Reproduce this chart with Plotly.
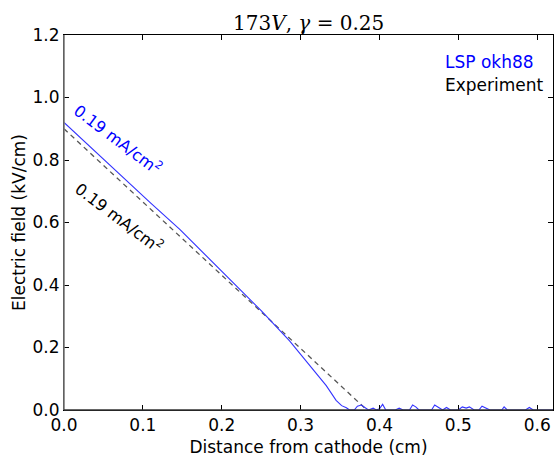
import plotly.graph_objects as go

# LSP okh88 simulation (blue)
lsp_x = [0.0, 0.035, 0.0709, 0.11, 0.1468, 0.172, 0.2207, 0.25, 0.286, 0.307, 0.3325,
         0.345, 0.352, 0.358, 0.362, 0.368, 0.372, 0.377, 0.382, 0.386, 0.392, 0.396,
         0.400, 0.404, 0.408, 0.420, 0.425, 0.430, 0.438, 0.442, 0.446, 0.450, 0.466,
         0.470, 0.475, 0.480, 0.485, 0.490, 0.500, 0.505, 0.510, 0.514, 0.520, 0.526,
         0.530, 0.535, 0.540, 0.555, 0.558, 0.562, 0.585, 0.590, 0.595, 0.620]
lsp_y = [0.920, 0.838, 0.752, 0.662, 0.578, 0.515, 0.390, 0.318, 0.221, 0.158, 0.078,
         0.031, 0.014, 0.007, 0.0, 0.0, 0.012, 0.016, 0.008, 0.0, 0.006, 0.0,
         0.004, 0.018, 0.0, 0.0, 0.006, 0.0, 0.0, 0.016, 0.010, 0.0, 0.0,
         0.016, 0.008, 0.0, 0.008, 0.0, 0.0, 0.010, 0.006, 0.010, 0.0, 0.0,
         0.012, 0.006, 0.0, 0.0, 0.010, 0.0, 0.0, 0.008, 0.0, 0.0]

# Experiment (dashed gray)
exp_x = [0.0, 0.384]
exp_y = [0.90, 0.0]

x_ticks = [0.0, 0.1, 0.2, 0.3, 0.4, 0.5, 0.6]
y_ticks = [0.0, 0.2, 0.4, 0.6, 0.8, 1.0, 1.2]

FONT = "DejaVu Sans"

fig = go.Figure()
fig.add_trace(go.Scatter(x=exp_x, y=exp_y, mode="lines",
                         line=dict(color="#555555", width=1.3, dash="5px,4px"),
                         showlegend=False, hoverinfo="skip"))
fig.add_trace(go.Scatter(x=lsp_x, y=lsp_y, mode="lines",
                         line=dict(color="#3333ff", width=1.1),
                         showlegend=False, hoverinfo="skip"))

axis_common = dict(showgrid=False, zeroline=False, showline=True, linecolor="black",
                   linewidth=1, mirror="ticks", ticks="inside", ticklen=5,
                   tickcolor="black", tickwidth=1,
                   tickfont=dict(family=FONT, size=17, color="black"))

fig.update_xaxes(range=[0, 0.62], tickvals=x_ticks,
                 ticktext=[f"{v:.1f}" for v in x_ticks],
                 title=dict(text="Distance from cathode (cm)",
                            font=dict(family=FONT, size=17, color="black"), standoff=8),
                 **axis_common)
fig.update_yaxes(range=[0, 1.2], tickvals=y_ticks,
                 ticktext=[f"{v:.1f}" for v in y_ticks],
                 title=dict(text="Electric field (kV/cm)",
                            font=dict(family=FONT, size=17, color="black"), standoff=2),
                 **axis_common)

# spine colours (left gray, bottom dark)
fig.add_shape(type="line", xref="x domain", yref="y domain", x0=0, x1=0, y0=0, y1=1,
              line=dict(color="#7a7a7a", width=1.6))
fig.add_shape(type="line", xref="x domain", yref="y domain", x0=0, x1=1, y0=0, y1=0,
              line=dict(color="#333333", width=1.6))

annotations = [
    dict(text="173<i>V</i>, <i>γ</i> = 0.25", xref="paper", yref="paper", x=0.5, y=1.031,
         xanchor="center", yanchor="middle", showarrow=False,
         font=dict(family="DejaVu Serif", size=20, color="black")),
    dict(text="LSP okh88", xref="paper", yref="paper", x=0.7755, y=0.9286,
         xanchor="left", yanchor="middle", showarrow=False,
         font=dict(family=FONT, size=17, color="#0000ff")),
    dict(text="Experiment", xref="paper", yref="paper", x=0.7755, y=0.8677,
         xanchor="left", yanchor="middle", showarrow=False,
         font=dict(family=FONT, size=17, color="black")),
    dict(text="0.19 mA/cm<sup>2</sup>", x=0.0687, y=0.867, xref="x", yref="y",
         textangle=37, showarrow=False, xanchor="center", yanchor="middle",
         font=dict(family=FONT, size=16, color="#0000ff")),
    dict(text="0.19 mA/cm<sup>2</sup>", x=0.0696, y=0.616, xref="x", yref="y",
         textangle=37, showarrow=False, xanchor="center", yanchor="middle",
         font=dict(family=FONT, size=16, color="black")),
]

fig.update_layout(width=556, height=457, autosize=False,
                  margin=dict(l=64, r=2, t=35, b=44),
                  paper_bgcolor="white", plot_bgcolor="white",
                  annotations=annotations, showlegend=False)

fig.write_html("out.html")
